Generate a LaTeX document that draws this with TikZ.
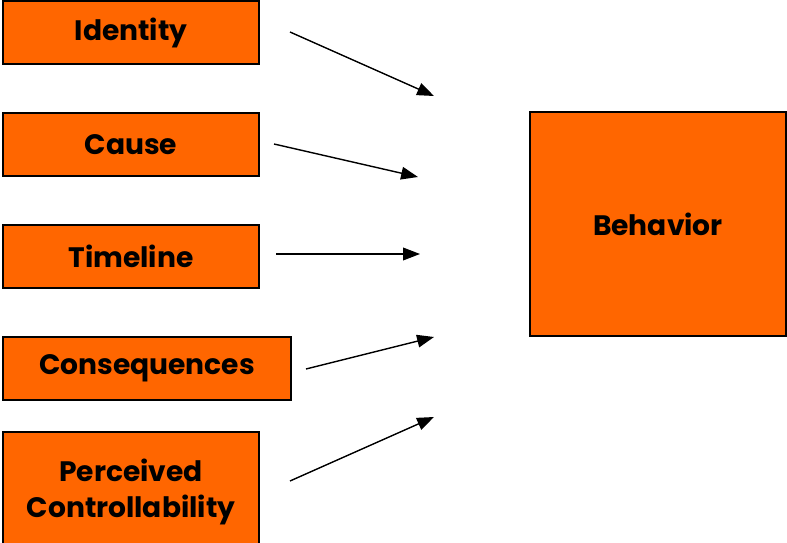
\documentclass[tikz,border=0pt]{standalone}
\usepackage{fontspec}
\setmainfont{Poppins}
\usepackage{xcolor}
\usepackage{tikz}
\usetikzlibrary{arrows.meta, positioning}
\definecolor{boxorange}{HTML}{FF6600}

\begin{document}
\begin{tikzpicture}[
    x=0.025cm, y=-0.025cm,
    factor/.style={rectangle, draw, fill=boxorange, line width=1pt, minimum width=6.4cm, minimum height=1.575cm, align=center, font=\bfseries\fontsize{20}{25.5}\selectfont},
    outcome/.style={factor, minimum width=6.4cm, minimum height=5.6cm},
    arrow/.style={-{Triangle[length=12pt, width=9pt]}, line width=1pt}
]
\clip (0,0) rectangle (787,543);
\useasboundingbox (0,0) rectangle (787,543);

% Illness representation factors
\node[factor] (identity) at (131,32.5) {Identity};
\node[factor] (cause) at (131,144.5) {Cause};
\node[factor] (timeline) at (131,256.5) {Timeline};
\node[factor, minimum width=7.2cm] (conseq) at (147,368.5) {Consequences};
\node[factor, minimum height=3cm] (control) at (131,492) {Perceived\\Controllability};

% Outcome
\node[outcome] (behavior) at (658,224) {Behavior};

% Arrow ends
\coordinate (identity_s) at (290,32);
\coordinate (identity_e) at (434,96);
\coordinate (cause_s) at (274,144);
\coordinate (cause_e) at (418,177);
\coordinate (timeline_s) at (276,254);
\coordinate (timeline_e) at (420,254);
\coordinate (conseq_s) at (306,369);
\coordinate (conseq_e) at (434,337);
\coordinate (control_s) at (290,481);
\coordinate (control_e) at (434,417);

% Arrows
\draw[arrow] (identity_s) -- (identity_e);
\draw[arrow] (cause_s) -- (cause_e);
\draw[arrow] (timeline_s) -- (timeline_e);
\draw[arrow] (conseq_s) -- (conseq_e);
\draw[arrow] (control_s) -- (control_e);

\end{tikzpicture}
\end{document}
